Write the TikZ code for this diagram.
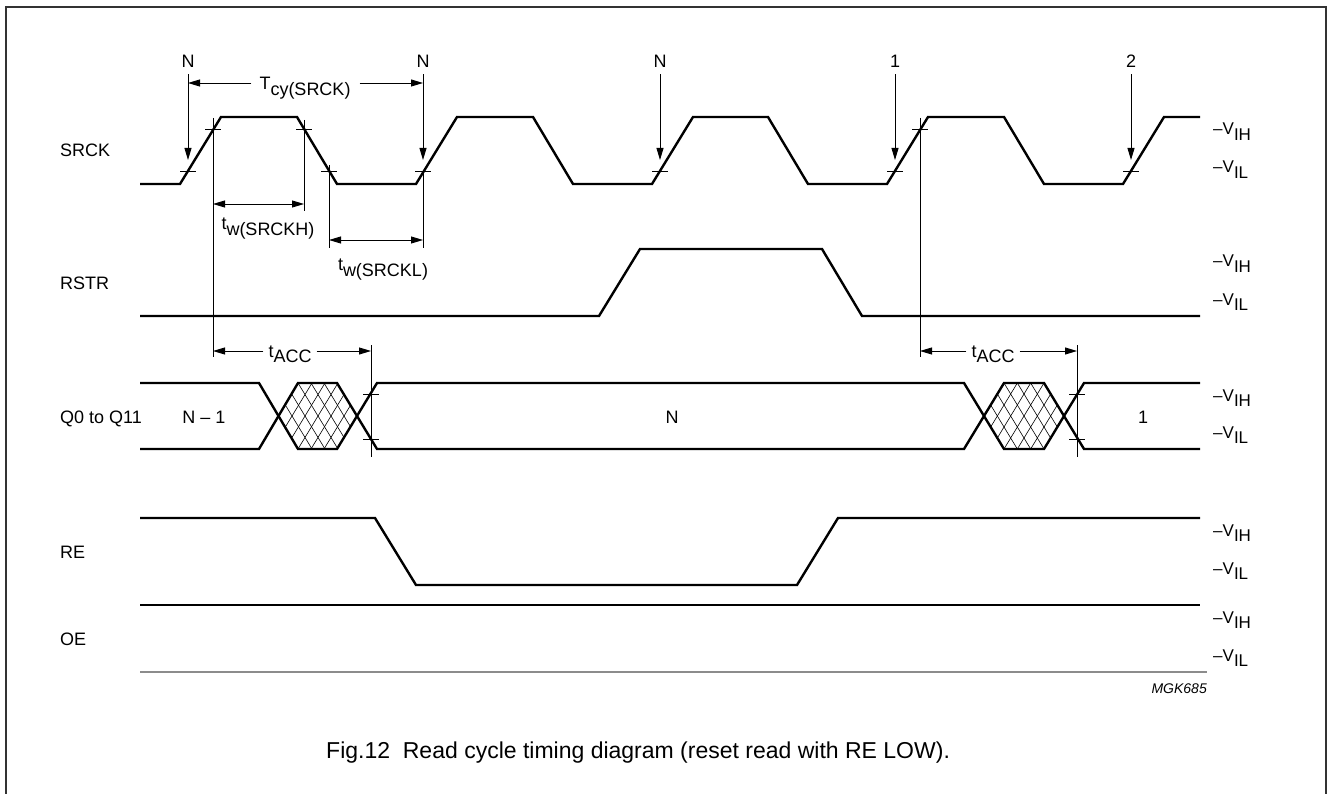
\documentclass[tikz,border=0pt]{standalone}
\usepackage{fontspec}
\setmainfont{Liberation Sans}
\usetikzlibrary{arrows.meta}
\newcommand\sbs[1]{\raisebox{-5.5pt}{#1}}
\begin{document}
\begin{tikzpicture}[x=1pt,y=-1pt,
  wave/.style={line width=2.4pt,line join=miter,line cap=butt},
  thinln/.style={line width=0.9pt},
  tickln/.style={line width=0.9pt},
  hatchln/.style={line width=0.6pt},
  arr/.style={line width=0.9pt,-{Triangle[length=12pt,width=7pt]}},
  darr/.style={line width=0.9pt,{Triangle[length=12pt,width=7pt]}-{Triangle[length=12pt,width=7pt]}},
  lbl/.style={inner sep=0pt,font=\fontsize{18}{20}\selectfont},
  vlbl/.style={inner sep=0pt,anchor=base west,font=\fontsize{17}{19}\selectfont}]
\useasboundingbox (0,0) rectangle (1327,794);
% frame
\draw[black!80,line width=1.6pt] (6,800) -- (6,7) -- (1326,7) -- (1326,800);

% signal names
\node[lbl,anchor=base west] (nsrck) at (60,157) {SRCK};
\node[lbl,anchor=base west] (nrstr) at (60,290) {RSTR};
\node[lbl,anchor=base west] (nq) at (60,423) {Q0 to Q11};
\node[lbl,anchor=base west] (nre) at (60,558) {RE};
\node[lbl,anchor=base west] (noe) at (60,645) {OE};

% level labels
\foreach \h/\l [count=\i] in {117/184, 249/316, 383/449, 518/585, 605/672} {
  \node[vlbl] (vih\i) at (1213,\h+18) {–V\sbs{IH}};
  \node[vlbl] (vil\i) at (1213,\l-11) {–V\sbs{IL}};
}

% waveforms
\draw[wave] (140,184) -- (180,184) -- (221,117) -- (297,117) -- (337,184) -- (416,184) -- (457,117) -- (533,117) -- (573,184) -- (652,184) -- (693,117) -- (768,117) -- (808,184) -- (887,184) -- (928,117) -- (1004,117) -- (1044,184) -- (1123,184) -- (1164,117) -- (1200,117);
\draw[wave] (140,316) -- (599,316) -- (640,249) -- (822,249) -- (862,316) -- (1200,316);
\draw[wave] (140,383) -- (259,383) -- (298,449) -- (337,449) -- (377,383) -- (964,383) -- (1004,449) -- (1044,449) -- (1084,383) -- (1200,383);
\draw[wave] (140,449) -- (259,449) -- (298,383) -- (337,383) -- (377,449) -- (964,449) -- (1004,383) -- (1044,383) -- (1084,449) -- (1200,449);
\draw[wave] (140,518) -- (375,518) -- (416,585) -- (797,585) -- (838,518) -- (1200,518);
\draw[wave] (140,605) -- (1200,605);
\draw[line width=1.3pt,black!45] (140,672) -- (1207,672);

% hatching
\begin{scope}
  \clip (278.5,416) -- (298,383) -- (337,383) -- (357,416) -- (337,449) -- (298,449) -- cycle;
  \foreach \k in {1,...,5} {
    \draw[hatchln] (259+13*\k,383) -- ++(40,66);
    \draw[hatchln] (259+13*\k,449) -- ++(40,-66);
  }
\end{scope}
\begin{scope}
  \clip (984,416) -- (1004,383) -- (1044,383) -- (1064,416) -- (1044,449) -- (1004,449) -- cycle;
  \foreach \k in {1,...,5} {
    \draw[hatchln] (964+13.33*\k,383) -- ++(40,66);
    \draw[hatchln] (964+13.33*\k,449) -- ++(40,-66);
  }
\end{scope}

% ticks
\foreach \x/\y in {188/171, 213/129, 304/129, 329/171, 423/171, 660/171, 895/171, 920/129, 1131/171, 371/394, 371/439, 1077/394, 1077/439}
  \draw[tickln] (\x-8,\y) -- (\x+8,\y);

% vertical guide lines
\draw[thinln] (213,118) -- (213,357);
\draw[thinln] (304,120) -- (304,211);
\draw[thinln] (329,165) -- (329,248);
\draw[thinln] (423,171) -- (423,248);
\draw[thinln] (920,118) -- (920,357);
\draw[thinln] (371,345) -- (371,457);
\draw[thinln] (1077,345) -- (1077,457);

% clock edge arrows
\foreach \x/\t [count=\i] in {188/N, 423/N, 660/N, 895/1, 1131/2} {
  \node[lbl,anchor=base] (top\i) at (\x,68) {\t};
  \coordinate (tip\i) at (\x,160);
  \draw[arr] ([yshift=-6pt]top\i.south) -- (tip\i);
}

% Tcy
\node[lbl,anchor=base] (tcy) at (305,90) {T\sbs{cy(SRCK)}};
\coordinate (tcyL) at (188,83);
\coordinate (tcyR) at (423,83);
\draw[arr] ([xshift=-8pt]tcy.west |- tcyL) -- (tcyL);
\draw[arr] ([xshift=9pt]tcy.east |- tcyR) -- (tcyR);

% tw(SRCKH), tw(SRCKL)
\coordinate (wh1) at (213,204);
\coordinate (wh2) at (304,204);
\draw[darr] (wh1) -- (wh2);
\node[lbl,anchor=base] (twh) at (268,230) {t\sbs{w(SRCKH)}};
\coordinate (wl1) at (329,240);
\coordinate (wl2) at (423,240);
\draw[darr] (wl1) -- (wl2);
\node[lbl,anchor=base] (twl) at (383,271) {t\sbs{w(SRCKL)}};

% tACC
\node[lbl,anchor=base] (tacc1) at (290,357) {t\sbs{ACC}};
\coordinate (ta1L) at (213,351);
\coordinate (ta1R) at (371,351);
\draw[arr] ([xshift=-5pt]tacc1.west |- ta1L) -- (ta1L);
\draw[arr] ([xshift=5pt]tacc1.east |- ta1R) -- (ta1R);
\node[lbl,anchor=base] (tacc2) at (993,357) {t\sbs{ACC}};
\coordinate (ta2L) at (920,351);
\coordinate (ta2R) at (1077,351);
\draw[arr] ([xshift=-5pt]tacc2.west |- ta2L) -- (ta2L);
\draw[arr] ([xshift=5pt]tacc2.east |- ta2R) -- (ta2R);

% data labels
\node[lbl,anchor=base] (qa) at (204,423) {N – 1};
\node[lbl,anchor=base] (qb) at (672,423) {N};
\node[lbl,anchor=base] (qc) at (1143,423) {1};

% code and caption
\node[inner sep=0pt,anchor=base east,font=\fontsize{14}{16}\selectfont\itshape] (mgk) at (1207,693) {MGK685};
\node[inner sep=0pt,anchor=base west,font=\fontsize{23}{26}\selectfont] (cap) at (326,758) {Fig.12\hspace{0.556em}Read cycle timing diagram (reset read with RE LOW).};
\end{tikzpicture}
\end{document}
